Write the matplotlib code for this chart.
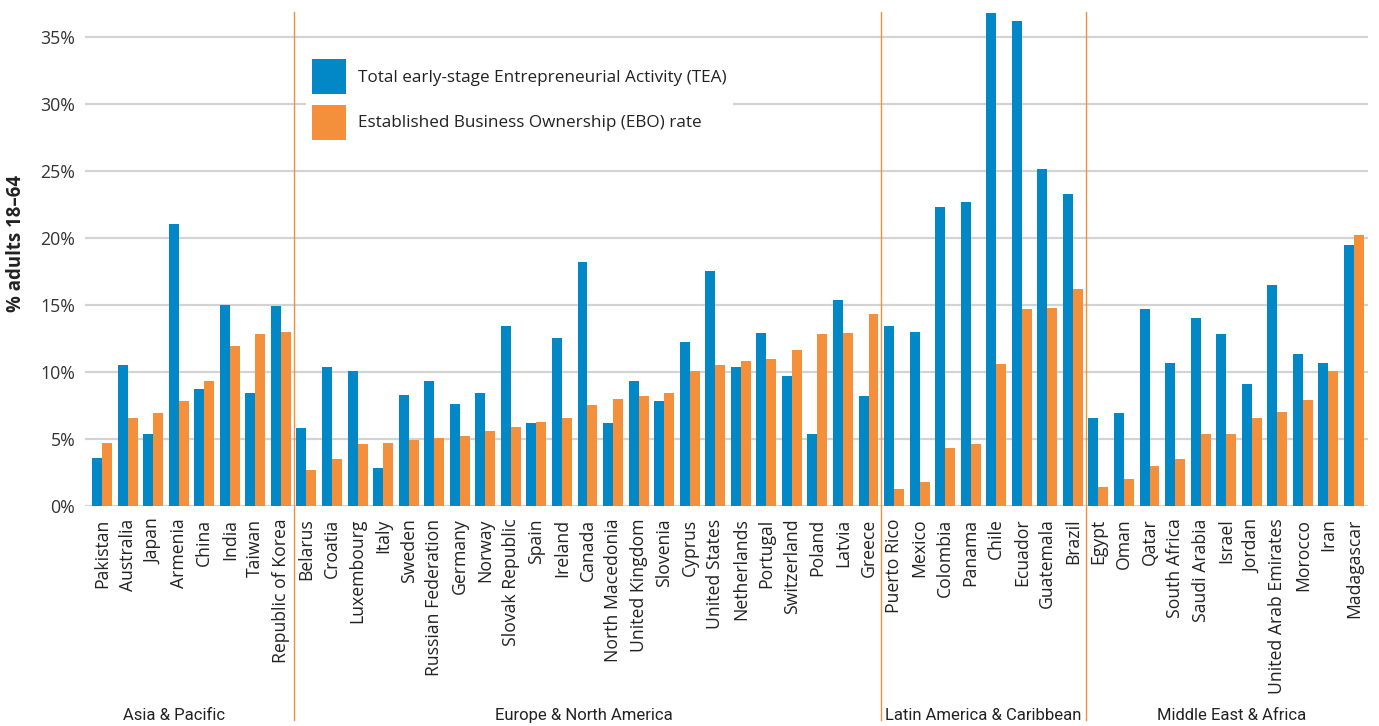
import matplotlib
matplotlib.use("Agg")
import matplotlib.pyplot as plt
from matplotlib.lines import Line2D
import matplotlib.transforms as mtransforms
import numpy as np

plt.rcParams['font.family'] = ['Open Sans', 'DejaVu Sans']

regions = ["Asia & Pacific", "Europe & North America",
           "Latin America & Caribbean", "Middle East & Africa"]

asia = ["Pakistan", "Australia", "Japan", "Armenia", "China", "India", "Taiwan",
        "Republic of Korea"]
europe = ["Belarus", "Croatia", "Luxembourg", "Italy", "Sweden", "Russian Federation",
          "Germany", "Norway", "Slovak Republic", "Spain", "Ireland", "Canada",
          "North Macedonia", "United Kingdom", "Slovenia", "Cyprus", "United States",
          "Netherlands", "Portugal", "Switzerland", "Poland", "Latvia", "Greece"]
latam = ["Puerto Rico", "Mexico", "Colombia", "Panama", "Chile", "Ecuador",
         "Guatemala", "Brazil"]
mea = ["Egypt", "Oman", "Qatar", "South Africa", "Saudi Arabia", "Israel", "Jordan",
       "United Arab Emirates", "Morocco", "Iran", "Madagascar"]

tea_asia = [3.6, 10.5, 5.4, 21.0, 8.7, 15.0, 8.4, 14.9]
ebo_asia = [4.7, 6.6, 6.9, 7.8, 9.3, 11.9, 12.8, 13.0]

tea_europe = [5.8, 10.4, 10.1, 2.8, 8.3, 9.3, 7.6, 8.4, 13.4, 6.2, 12.5, 18.2,
              6.2, 9.3, 7.8, 12.2, 17.5, 10.4, 12.9, 9.7, 5.4, 15.4, 8.2]
ebo_europe = [2.7, 3.5, 4.6, 4.7, 4.9, 5.1, 5.2, 5.6, 5.9, 6.3, 6.6, 7.5,
              8.0, 8.2, 8.4, 10.1, 10.5, 10.8, 11.0, 11.6, 12.8, 12.9, 14.3]

tea_latam = [13.4, 13.0, 22.3, 22.7, 36.8, 36.2, 25.1, 23.3]
ebo_latam = [1.3, 1.8, 4.3, 4.6, 10.6, 14.7, 14.8, 16.2]

tea_mea = [6.6, 6.9, 14.7, 10.7, 14.0, 12.8, 9.1, 16.5, 11.3, 10.7, 19.5]
ebo_mea = [1.4, 2.0, 3.0, 3.5, 5.4, 5.4, 6.6, 7.0, 7.9, 10.1, 20.2]

yticks = [0, 5, 10, 15, 20, 25, 30, 35]
ytick_labels = ["0%", "5%", "10%", "15%", "20%", "25%", "30%", "35%"]

groups = [asia, europe, latam, mea]
countries = asia + europe + latam + mea
tea = tea_asia + tea_europe + tea_latam + tea_mea
ebo = ebo_asia + ebo_europe + ebo_latam + ebo_mea

BLUE = "#0288C6"
ORANGE = "#F48F3B"
TXT = "#222222"

fig = plt.figure(figsize=(13.79, 7.26), dpi=100)
ax = fig.add_axes([0.0616, 0.303, 0.9304, 0.6805])

x = np.arange(len(countries))
w = 0.39
ax.bar(x - w / 2, tea, width=w, color=BLUE, zorder=3,
       label="Total early-stage Entrepreneurial Activity (TEA)")
ax.bar(x + w / 2, ebo, width=w, color=ORANGE, zorder=3,
       label="Established Business Ownership (EBO) rate")

ax.set_xlim(-0.67, 49.55)
ax.set_ylim(0, 36.84)
ax.set_yticks(yticks)
ax.set_yticklabels(ytick_labels, fontsize=12.8, color="#333333")
ax.yaxis.grid(True, color="#d3d3d3", linewidth=1.6, zorder=0)
ax.set_axisbelow(True)
for s in ax.spines.values():
    s.set_visible(False)
ax.tick_params(axis="y", length=0, pad=7)
ax.tick_params(axis="x", length=0, pad=9)
ax.set_xticks(x)
ax.set_xticklabels(countries, rotation=90, fontsize=12.7, color=TXT)

ax.set_ylabel("% adults 18\u201364", fontsize=13.4, fontweight="bold",
              color=TXT, labelpad=8)
ax.yaxis.set_label_coords(-0.046, 0.532)

# region separators and labels
trans = mtransforms.blended_transform_factory(ax.transData, ax.transAxes)
start = 0
centers = []
for gi, g in enumerate(groups):
    end = start + len(g)
    centers.append((start + end - 1) / 2)
    if gi < len(groups) - 1:
        ln = Line2D([end - 0.5, end - 0.5], [1.0, -0.433], transform=trans,
                    color=ORANGE, linewidth=1.0, clip_on=False, zorder=4)
        ax.add_line(ln)
    start = end
offsets = [-0.7, -0.15, 0.0, 0.2]
for r, c, o in zip(regions, centers, offsets):
    ax.text(c + o, -0.423, r, transform=trans, ha="center", va="center",
            fontsize=12, color=TXT, family=["Roboto", "DejaVu Sans"])

leg = ax.legend(loc="upper left", bbox_to_anchor=(306 / 1379, 1 - 53 / 726),
                bbox_transform=fig.transFigure, frameon=True,
                fontsize=12.3, handlelength=2.0, handleheight=2.8,
                labelspacing=0.6, borderpad=0.35, handletextpad=0.7,
                borderaxespad=0)
leg.get_frame().set_facecolor("white")
leg.get_frame().set_edgecolor("none")
leg.get_frame().set_alpha(1.0)
leg.get_frame().set_boxstyle("square", pad=0)
for t in leg.get_texts():
    t.set_color(TXT)

fig.savefig("out.png", dpi=100, facecolor="white")
